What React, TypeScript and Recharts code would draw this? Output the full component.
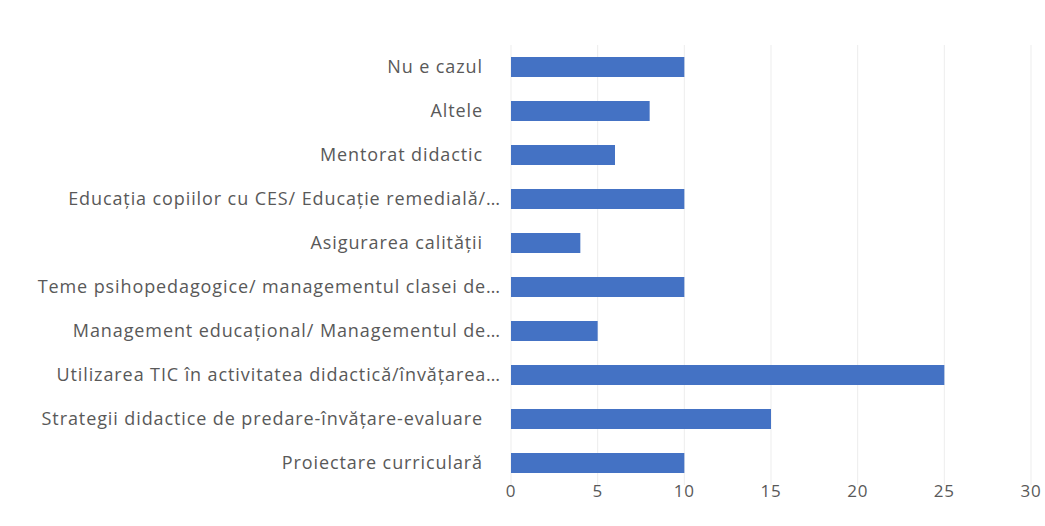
import { Bar, BarChart, CartesianGrid, XAxis, YAxis } from 'recharts';

const categories = [
  'Nu e cazul',
  'Altele',
  'Mentorat didactic',
  'Educația copiilor cu CES/ Educație remedială/…',
  'Asigurarea calității',
  'Teme psihopedagogice/ managementul clasei de…',
  'Management educațional/ Managementul de…',
  'Utilizarea TIC în activitatea didactică/învățarea…',
  'Strategii didactice de predare-învățare-evaluare',
  'Proiectare curriculară',
];

const values = [10, 8, 6, 10, 4, 10, 5, 25, 15, 10];

const xTicks = [0, 5, 10, 15, 20, 25, 30];

const data = categories.map((name, i) => ({ name, total: values[i] }));

const textColor = '#595959';
const font = '"Open Sans", sans-serif';

function CategoryTick(props: any) {
  const { x, y, payload } = props;
  const label: string = payload.value;
  // truncated labels run almost up to the bar, like in Excel
  const gap = label.endsWith('…') ? 2 : 20;
  return (
    <text
      x={x - gap}
      y={y}
      dy='0.35em'
      textAnchor='end'
      fill={textColor}
      fontSize={18}
      fontFamily={font}
      letterSpacing={0.9}
    >
      {label}
    </text>
  );
}

export default function App() {
  return (
    <div style={{ position: 'absolute', left: 0, top: 0, background: '#fff' }}>
      <BarChart
        width={1045}
        height={526}
        data={data}
        layout='vertical'
        margin={{ top: 45, right: 14, bottom: 11, left: 0 }}
        barCategoryGap={0}
      >
        <CartesianGrid horizontal={false} stroke='#ededed' />
        <XAxis
          type='number'
          domain={[0, 30]}
          ticks={xTicks}
          interval={0}
          axisLine={false}
          tickLine={false}
          tickSize={0}
          tickMargin={0}
          height={30}
          tick={{ fill: textColor, fontSize: 17, fontFamily: font, letterSpacing: 0.8 }}
        />
        <YAxis
          type='category'
          dataKey='name'
          width={511}
          axisLine={false}
          tickLine={false}
          interval={0}
          tick={<CategoryTick />}
        />
        <Bar dataKey='total' fill='#4472C4' barSize={20} isAnimationActive={false} />
      </BarChart>
    </div>
  );
}
